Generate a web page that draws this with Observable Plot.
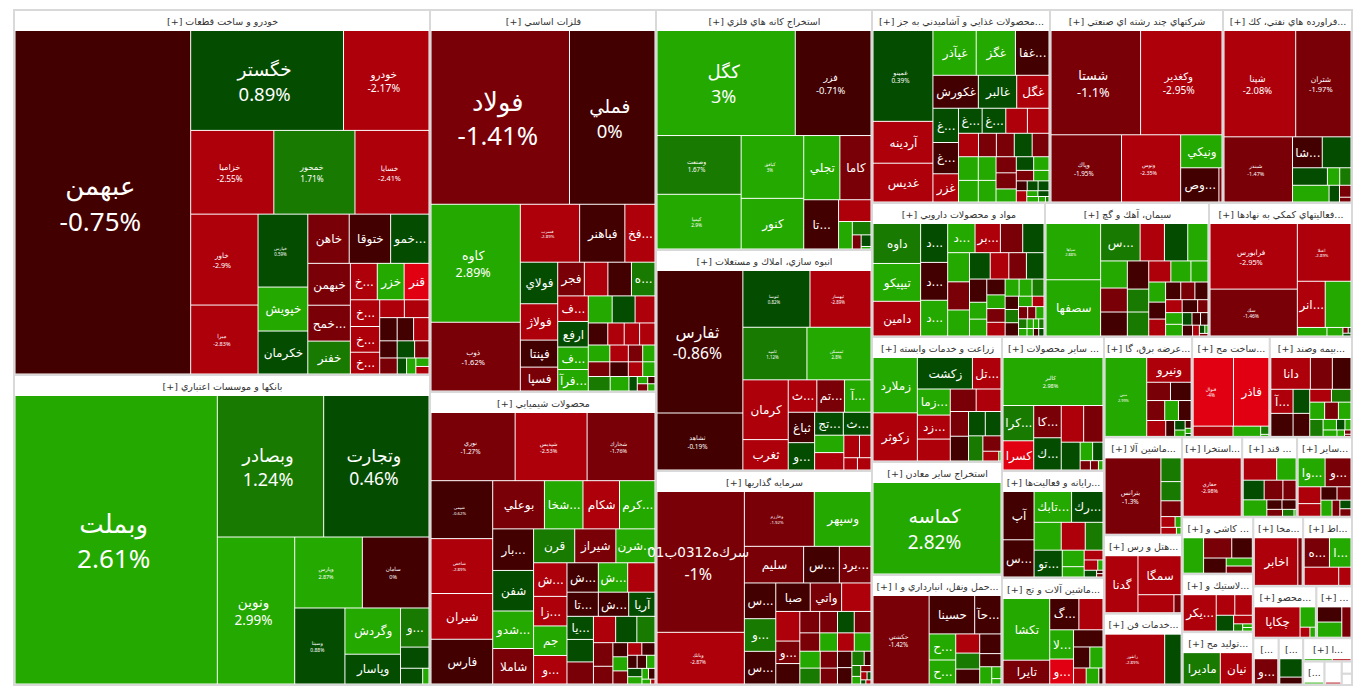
<!DOCTYPE html>
<html><head><meta charset="utf-8">
<script src="https://cdn.jsdelivr.net/npm/d3@7"></script>
<script src="https://cdn.jsdelivr.net/npm/@observablehq/plot@0.6"></script>
<style>html,body{margin:0;padding:0;background:#fff;overflow:hidden}svg{display:block}</style>
</head><body><div id="chart"></div>
<script>
// sector headings, in layout order
const sectorTitles = [
"خودرو و ساخت قطعات","بانكها و موسسات اعتباري","فلزات اساسي","محصولات شيميايي",
"استخراج كانه هاي فلزي","انبوه سازي، املاك و مستغلات","سرمايه گذاريها",
"محصولات غذايي و آشاميدني به جز...","شركتهاي چند رشته اي صنعتي","فراورده هاي نفتي، كك...",
"مواد و محصولات دارويي","سيمان، آهك و گچ","فعاليتهاي كمكي به نهادها...",
"زراعت و خدمات وابسته","استخراج ساير معادن","حمل ونقل، انبارداري و ا...",
"ساير محصولات ...","رايانه و فعاليت‌ها...","ماشين آلات و تج...",
"عرضه برق، گا...","ساخت مح...","بيمه وصند...",
"ماشين آلا...","هتل و رس...","خدمات فن...",
"استخرا...","قند ...","ساير...",
"كاشي و ...","لاستيك و...","توليد مح...",
"مخا...","اط...","محصو...","...","","","ا...","","","",""];
// sector market weights
const sectorSizes = [151840,128960,86332,66218,51840,47736,46224,34354,33389,24897,23182,21976,19162,16250,14690,14300,13668,10914,10914,8850,7800,8250,7643,6130,5573,4798,4384,4384,4053,4126,3764,3445,3375,3270,1846,1190,1142,1142,500,404,124,114];
const sarkName = "سرك\u200cه0312ب01";

// [ticker, weight inside its sector, % change]
const autos = [["عبهمن",58260,-0.75],["خگستر",14744,0.89],["خودرو",8245,-2.17],["خزاميا",6724,-2.55],["خمحور",6560,1.71],["خسايا",5986,-2.41],["خاور",5915,-2.9],["ميرا",4485,-2.83],["خپارس",3504,0.59],["خپويش",2112,2.5],["خكرمان",2064,.5],["خاهن",1968,-1.5],["ختوقا",1968,-.5],["خمو...",1824,.5],["خبهمن",1722,-1.5],["خمح...",1476,-1.5],["خفنر",1353,1.5],["خ...",945,-2.5],["خزر",945,2.5],["قنر",875,-3.5],["خ...",756,-2.5],["خ...",728,-2.5],["خ...",616,-2.5],["",425,-2.5],["",425,-2.5],["",391,-.5],["",368,-.5],["",345,-2.5],["",289,-.5],["",289,.5],["",238,-1.5],["",272,-1.5],["",144,.5],["",144,2.5],["",108,2.5],["",96,-2.5]];
const banks = [["وبملت",56200,2.61],["وبصادر",14490,1.24],["وتجارت",14352,0.46],["ونوين",10950,2.99],["وپارس",4623,2.87],["سامان",4554,0],["وسينا",3675,0.88],["وگردش",2475,2.5],["وپاسار",1595,.5],["و...",1073,1.5],["",580,.5],["",336,.5],["",96,2.5]];
const metals = [["فولاد",22317,-1.41],["فملي",13780,0],["كاوه",9775,2.89],["ذوب",5695,-1.62],["فسرب",3186,-2.89],["فباهنر",2430,-.5],["فخ...",1620,-2.5],["فولاي",1440,.5],["فولاژ",1260,-2.5],["فپنتا",936,-.5],["فسپا",828,-1.5],["فجر",832,-1.5],["",736,-2.5],["",736,-.5],["ه...",736,1.5],["ف...",725,-2.5],["ارفع",725,.5],["ف...",638,2.5],["فرآ...",609,2.5],["",600,2.5],["",575,.5],["",500,-2.5],["",399,-.5],["",336,-2.5],["",315,-2.5],["",315,-2.5],["",336,2.5],["",288,-2.5],["",224,-1.5],["",192,2.5],["",294,-1.5],["",252,-.5],["",196,-2.5],["",168,2.5],["",294,1.5],["",252,2.5],["",112,.5],["",70,2.5],["",49,-.5],["",70,-1.5],["",49,2.5]];
const chemicals = [["نوري",5395,-1.27],["شپديس",4615,-2.53],["شخارك",4355,-1.76],["شيمي",3363,-0.62],["شاخص",3186,-2.89],["شيران",2655,-2.5],["فارس",2596,-.5],["بوعلي",2346,-1.5],["شخا...",1748,2.5],["شكام",1656,-2.5],["كرم...",1610,2.5],["بار...",1599,-.5],["شفن",1560,.5],["شدو...",1443,2.5],["شاملا",1365,-1.5],["قرن",1312,1.5],["شيراز",1312,-1.5],["شرن...",1248,2.5],["ش...",1056,-2.5],["زا...",928,-2.5],["جم",928,2.5],["و...",896,-2.5],["ش...",868,-.5],["ش...",812,2.5],["",756,-2.5],["تا...",713,-.5],["ش...",690,-.5],["آريا",598,.5],["يا...",575,.5],["",560,.5],["",550,-1.5],["",550,-2.5],["",525,.5],["",450,1.5],["",432,-1.5],["",324,-1.5],["",196,-.5],["",196,2.5],["",182,-1.5],["",168,-2.5],["",156,-.5],["",117,-.5],["",117,-.5],["",104,2.5],["",112,.5],["",98,2.5],["",66,2.5],["",66,-.5],["",40,2.5],["",20,-2.5]];
const mining = [["كگل",13974,3],["فزر",7650,-0.71],["وصنعت",4756,1.67],["كيميا",4428,2.9],["كبافق",3782,3],["كنور",3050,2.5],["تجلي",2232,2.5],["كاما",1922,-1.5],["تا...",1650,-.5],["",680,-2.5],["",364,2.5],["",240,1.5],["",120,-1.5],["",110,.5],["",24,2.5]];
const buildings = [["ثفارس",11443,-0.86],["ثشاهد",4577,-0.19],["ثنوسا",3564,0.82],["ثبهساز",3240,-2.89],["ثاميد",3150,1.12],["ثمسكن",3150,2.8],["كرمان",2537,-2.5],["ثغرب",1290,-2.5],["ث...",868,-2.5],["تم...",837,-1.5],["آ...",806,2.5],["ثباغ",750,-.5],["و...",675,.5],["تج...",616,.5],["ث...",594,.5],["",476,2.5],["",476,-2.5],["",330,-2.5],["",242,-2.5],["",156,-2.5],["",156,-2.5]];
const investments = [[sarkName,11517,-1],["وبانك",4226,-2.87],["وخارزم",3588,-1.92],["وسپهر",2912,2.5],["سليم",2030,-1.5],["س...",1225,-.5],["يرد...",1085,-1.5],["س...",1050,-.5],["و...",960,1.5],["س...",960,-.5],["صبا",918,-.5],["واتي",837,-1.5],["",783,-2.5],["",667,-2.5],["و...",506,-1.5],["",460,-.5],["",399,-1.5],["",357,-1.5],["",336,.5],["",336,-1.5],["",342,-1.5],["",306,2.5],["",288,-2.5],["",288,2.5],["",323,2.5],["",304,1.5],["",272,-1.5],["",256,-1.5],["",221,-.5],["",221,-.5],["",165,1.5],["",91,-.5],["",90,1.5],["",63,2.5],["",60,-1.5],["",48,-2.5],["",30,.5],["",20,.5],["",20,-2.5]];
const foods = [["غمينو",5073,0.39],["آردينه",2337,-2.5],["غديس",2166,-2.5],["غپآذر",1806,2.5],["غگز",1638,2.5],["غفا...",1400,-.5],["غكورش",1395,-.5],["غالبر",1178,.5],["غگل",992,-2.5],["غ...",816,.5],["غ...",744,-.5],["غزر",672,-2.5],["غ...",552,.5],["غ...",552,.5],["",504,-2.5],["",504,-2.5],["",437,-2.5],["",391,-1.5],["",391,-1.5],["",391,.5],["",368,-1.5],["",437,2.5],["",399,2.5],["",391,2.5],["",357,2.5],["",304,-1.5],["",304,-1.5],["",247,2.5],["",221,.5],["",195,2.5],["",170,-1.5],["",150,2.5],["",100,-.5],["",100,.5],["",100,.5],["",110,-2.5],["",60,2.5],["",60,.5],["",60,2.5],["",36,2.5],["",18,1.5]];
const holdings = [["شستا",8976,-1.1],["وكغدير",8160,-2.95],["وپاك",4556,-1.95],["وتوس",3819,-2.35],["ونيكي",1312,2.5],["وص...",1258,-.5],["",102,-1.5]];
const refinery = [["شپنا",7210,-2.08],["شتران",5562,-1.97],["شبندر",4224,-1.47],["شا...",870,-.5],["",841,.5],["",578,.5],["",204,2.5],["",187,1.5],["",578,2.5],["",165,.5],["",130,-1.5],["",52,-1.5]];
const pharma = [["داوه",1672,1.5],["تيپيكو",1584,2.5],["دامين",1452,-2.5],["د...",925,.5],["د...",900,-.5],["د...",850,2.5],["د...",702,2.5],["بر...",650,-2.5],["",572,-1.5],["",546,.5],["",560,2.5],["",540,-1.5],["",500,2.5],["",480,.5],["",432,-2.5],["",408,-1.5],["",408,.5],["",352,-.5],["",256,2.5],["",256,2.5],["",255,-.5],["",221,2.5],["",221,-1.5],["",221,-2.5],["",210,2.5],["",195,2.5],["",180,1.5],["",156,-.5],["",156,1.5],["",156,-.5],["",126,2.5],["",108,-2.5],["",99,-1.5],["",88,-1.5],["",88,2.5],["",72,1.5],["",54,2.5],["",45,2.5],["",45,1.5],["",56,2.5],["",42,2.5],["",35,-.5],["",35,.5]];
const cement = [["سپاها",2754,2.88],["سصفها",2754,2.5],["س...",1326,1.5],["",816,-2.5],["",782,.5],["",680,2.5],["",650,2.5],["",575,-1.5],["",575,-.5],["",540,-.5],["",440,1.5],["",460,1.5],["",418,-2.5],["",380,2.5],["",323,2.5],["",304,2.5],["",256,-.5],["",256,-2.5],["",240,-.5],["",224,-1.5],["",208,-.5],["",192,-2.5],["",180,-.5],["",120,-1.5],["",176,2.5],["",176,2.5],["",108,.5],["",96,-.5],["",84,-.5],["",99,-.5],["",66,-2.5],["",40,.5],["",24,2.5],["",20,-1.5]];
const support = [["فرابورس",5292,-2.95],["سك",3780,-1.46],["اعتلا",2862,-2.89],["انر...",1188,-2.5],["",1100,2.5],["",234,2.5],["",126,2.5],["",28,-1.5],["",15,.5],["",21,.5]];
const farming = [["زملارد",2214,2.5],["زكوثر",1927,-2.5],["زكشت",1566,.5],["تل...",812,-2.5],["زما...",775,2.5],["زد...",713,-2.5],["",651,-2.5],["",525,-1.5],["",504,-2.5],["",408,-1.5],["",408,-.5],["",368,.5],["",345,.5],["",325,1.5],["",252,-1.5],["",140,-2.5],["",20,2.5]];
const otherMines = [["كماسه",100,2.82]];
const transport = [["حكشتي",4472,-1.42],["حسينا",1575,-.5],["حآ...",910,-.5],["ح...",625,2.5],["ح...",575,2.5],["",414,-2.5],["",345,1.5],["",322,-.5],["",378,-.5],["",252,-.5],["",187,2.5],["",99,2.5],["",45,2.5]];
const otherProducts = [["كالبر",4500,2.98],["كرا...",1015,1.5],["كسرا",841,-3.5],["كا...",832,-1.5],["ك...",832,.5],["",770,-2.5],["",665,-1.5],["",493,.5],["",216,2.5],["",180,.5],["",90,-1.5],["",70,-1.5],["",40,2.5]];
const computing = [["آپ",1392,-.5],["س...",1073,-.5],["تابك...",1073,2.5],["رك...",899,.5],["",702,2.5],["",621,-2.5],["",459,1.5],["تو...",702,.5],["",336,2.5],["",210,2.5],["",171,-2.5],["",130,-2.5],["",50,2.5],["",78,.5],["",20,-.5],["",20,-1.5]];
const machinery = [["تكشا",2565,2.5],["تايرا",990,-1.5],["گ...",812,-.5],["",672,-2.5],["لا...",621,2.5],["و...",529,-3.5],["",450,-.5],["",304,-.5],["",247,2.5],["",180,-2.5],["",180,2.5],["",60,-.5]];
const power = [["مبين",2964,2.99],["ونيرو",990,-2.5],["",391,-1.5],["",340,-.5],["",323,-1.5],["",247,2.5],["",228,-.5],["",272,-2.5],["",128,-.5],["",90,.5],["",60,2.5],["",42,-.5],["",28,2.5],["",16,.5]];
const metalProducts = [["فنوال",2640,-4],["فاذر",2310,-3.5],["",390,-2.5],["",270,2.5],["",64,1.5],["",16,2.5]];
const insurance = [["دانا",1080,-2.5],["",600,-1.5],["",510,-.5],["آ...",460,-2.5],["",440,-.5],["",345,.5],["",330,-.5],["",240,-2.5],["",216,1.5],["",221,2.5],["",204,-1.5],["",187,2.5],["",195,1.5],["",121,2.5],["",77,.5],["",55,2.5],["",77,2.5],["",42,2.5],["",24,-1.5],["",12,-1.5]];
const machines2 = [["بترانس",3922,-1.3],["",441,1.5],["",357,1.5],["",294,-1.5],["",140,-2.5],["",60,2.5],["",98,-2.5],["",30,2.5]];
const hotels = [["گدنا",1728,-2.5],["سمگا",1548,-2.5],["",595,-2.5],["",119,-1.5]];
const tech = [["رانفور",2842,-2.89],["",784,.5]];
const drilling = [["حفاري",100,-2.98]];
const sugar = [["",620,-2.5],["",360,2.5],["",342,.5],["",306,-1.5],["",216,-1.5],["",323,2.5],["",120,-.5],["",112,-.5],["",90,-1.5],["",66,1.5],["",12,2.5]];
const otherFin = [["وا...",650,2.5],["و...",624,-1.5],["",320,-2.5],["",240,-2.5],["",180,-.5],["",156,-1.5],["",150,2.5],["",105,-1.5],["",80,.5],["",70,-1.5]];
const ceramics = [["",660,2.5],["",520,-1.5],["",380,-.5],["",312,-.5],["",190,2.5],["",171,-1.5]];
const rubber = [["يكر...",1023,-2.5],["",324,-2.5],["",306,-2.5],["",234,.5],["",136,-2.5],["",56,1.5],["",30,2.5],["",30,2.5]];
const wood = [["ماديرا",1080,1.5],["نيان",930,-2.5]];
const telecom = [["اخابر",1800,-2.5],["",180,-1.5]];
const comms = [["ه...",621,-1.5],["ا...",530,2.5],["",525,-2.5],["",187,-2.5]];
const products2 = [["چكاپا",1134,-2.5],["",255,2.5],["",81,-2.5],["",45,2.5]];
const small1 = [["",286,-.5],["",286,2.5],["",216,-1.5]];
const small2 = [["و...",374,-1.5]];
const small3 = [["",336,.5],["",126,-.5]];
const small4 = [["",60,2.5],["",40,-2.5]];
const small5 = [["",60,2.5]];
const small6 = [["",40,-2.5]];
const small7 = [["",10,2.5]];
const small8 = [["",10,2.5]];
const sectorTiles = [autos,banks,metals,chemicals,mining,buildings,investments,foods,holdings,refinery,pharma,cement,support,farming,otherMines,transport,otherProducts,computing,machinery,power,metalProducts,insurance,machines2,hotels,tech,drilling,sugar,otherFin,ceramics,rubber,wood,telecom,comms,products2,small1,small2,small3,small4,small5,small6,small7,small8];
// headings that are cut to a bare bracket in the narrowest boxes
const bareTitle = {35:"[...",36:"[...",38:"[..."};

// how the treemap is tiled: n > 0 stacks the next n items in a column at the left, n < 0 lays them in a row along the top
const sectorPlan = [2,2,3,-3,-3,3,3,-3,3,-3,3,-2,-2,1,1,-1,1,1,2];
const tilePlans = [
 [1,-2,-3,2,3,-3,3,-3,3,-2,-3,-3,1,1,1,2],
 [1,-2,1,-2,1,2,-1,-1,-2],
 [-2,2,-3,4,-4,4,-3,-4,-4,-4,1,1,1,-2,-2],
 [-3,4,-4,4,-3,4,-3,-3,3,-3,2,3,-2,-3,2,-2,-2],
 [-2,2,2,-2,1,-1,1,-1,1,-1,-1],
 [2,-2,-2,2,-3,2,-2,2,-2,-2],
 [2,-2,-3,3,-3,3,-4,-4,2,2,2,-2,2,-1,-2,-2],
 [3,-3,-3,3,-4,-5,2,2,3,-2,-2,-3,1,-2,-3],
 [-2,1,1,-1,1,1],
 [-2,1,-2,-3,1,1,2],
 [3,3,-4,3,-4,3,4,-3,3,-2,-3,-4,-4],
 [2,-4,3,3,-3,3,-3,-3,2,-3,1,1,-2,-1],
 [2,-1,-2,1,1,-2,-1],
 [2,-2,3,-2,2,-2,1,-1,-2],
 [1],
 [1,-2,2,3,-1,-1,1,2],
 [-1,2,2,-2,1,-2,-3],
 [2,-2,-3,1,2,-1,-2,1,2],
 [2,-2,2,-1,-2,-3],
 [1,-1,-2,-3,1,1,2,3],
 [-2,1,1,2],
 [-3,2,2,-2,-3,1,-3,1,1,2],
 [1,-1,-1,-1,-2,-2],
 [1,-1,-2],
 [1,1],
 [1],
 [-2,-3,1,-2,-3],
 [-2,2,-2,1,1,2],
 [1,-2,1,-1,-1],
 [1,-2,1,-1,1,2],
 [1,1],[1,1],[-2,-2],[1,-1,1,1],[2,1],[1],[-1,-1],[1,1],[1],[1],[1],[1]];

// display type: tickers that also print their % change, with their type size
const pctLabelSize = {"عبهمن":26,"خگستر":18.5,"خودرو":10.4,"خزاميا":8.3,"خمحور":8.3,"خسايا":7.3,"خاور":7.2,"ميرا":5.5,"خپارس":4.4,"وبملت":26,"وبصادر":18,"وتجارت":17.5,"ونوين":13.5,"وپارس":5.4,"سامان":5.5,"وسينا":5,"فولاد":25.7,"فملي":18.5,"كاوه":12.5,"ذوب":7.5,"فسرب":4.3,"نوري":6.4,"شپديس":5.5,"شخارك":5.5,"شيمي":4.3,"شاخص":4.3,"كگل":18,"فزر":9.4,"وصنعت":6.2,"كيميا":4.8,"كبافق":4.5,"ثفارس":15.7,"ثشاهد":6.4,"ثنوسا":4.4,"ثبهساز":4.4,"ثاميد":4.4,"ثمسكن":4.4,[sarkName]:16,"وبانك":5,"وخارزم":4.3,"غمينو":6.4,"شستا":12.8,"وكغدير":10.2,"وپاك":6.3,"وتوس":5.3,"شپنا":9.4,"شتران":7.5,"شبندر":5.4,"سپاها":3.9,"فرابورس":7.4,"سك":5,"اعتلا":4.3,"حكشتي":6.2,"كالبر":5.5,"كماسه":19,"مبين":3.9,"فنوال":4.7,"بترانس":6.5,"رانفور":4.3,"حفاري":5.3};
const nameSizeOverride = {[sarkName]:13.6};
const nameOnlySize = 12;

const mapW = 1338, mapH = 675, offX = 14, offY = 10;
const rootData = {children: sectorTitles.map((title,i) => {
  const total = d3.sum(sectorTiles[i], t => t[1]);
  return {title, index:i, children: sectorTiles[i].map(t => ({name:t[0], size:t[1]/total*sectorSizes[i], pct:t[2]}))};
})};
// tile by the plan: each step takes its share of what is left of the box
function plannedTile(parent, x0, y0, x1, y1) {
  const plan = parent.depth === 0 ? sectorPlan : tilePlans[parent.data.index];
  const nodes = parent.children;
  let i = 0, left = parent.value;
  for (const step of plan) {
    const group = nodes.slice(i, i + Math.abs(step));
    const value = d3.sum(group, n => n.value);
    const share = left > 0 ? value / left : 0;
    const box = {children: group, value};
    if (step > 0) { const x = x0 + (x1 - x0) * share; d3.treemapSlice(box, x0, y0, x, y1); x0 = x; }
    else { const y = y0 + (y1 - y0) * share; d3.treemapDice(box, x0, y0, x1, y); y0 = y; }
    i += group.length; left -= value;
  }
}
const layoutRoot = d3.treemap().tile(plannedTile).size([mapW,mapH])
  .paddingTop(d => d.depth===1 ? 21 : 0)
  .paddingLeft(d => d.depth===1 ? 1.5 : 0)
  .paddingRight(d => d.depth===1 ? 1.5 : 0)
  .paddingBottom(d => d.depth===1 ? 1.5 : 0)
  .paddingInner(d => d.depth===1 ? 1 : 0)
  (d3.hierarchy(rootData).sum(d => d.size||0));

const sectorRows = layoutRoot.children.map(n => ({x0:n.x0+offX,x1:n.x1+offX,y0:n.y0+offY,y1:n.y1+offY,
  title: bareTitle[n.data.index] || (n.data.title==="" ? "" : "[+] "+n.data.title)}));
const tileRows = layoutRoot.leaves().map(n => {
  const d = n.data, size = pctLabelSize[d.name];
  const cx = (n.x0+n.x1)/2+offX, cy = (n.y0+n.y1)/2+offY, font = size || nameOnlySize;
  return {x0:n.x0+offX,x1:n.x1+offX,y0:n.y0+offY,y1:n.y1+offY,name:d.name,pct:d.pct,font,cx,cy,hasPct:!!size,
    nameFont:nameSizeOverride[d.name]||font};
});

const arabic = '"DejaVu Sans",sans-serif', latin = '"Noto Sans","DejaVu Sans",sans-serif';
const chart = Plot.plot({
  width:1366, height:695, margin:0,
  x:{type:"identity",axis:null}, y:{type:"identity",axis:null},
  color:{type:"threshold", domain:[-3,-2,-0.999,0.001,1,2],
    range:["#e00012","#ae000b","#7a0007","#430000","#044d00","#187a00","#24a900"]},
  style:{background:"#fff"},
  marks:[
    Plot.rect(sectorRows,{x1:"x0",x2:"x1",y1:"y0",y2:"y1",fill:"#fff",stroke:"#d9d9d9",strokeWidth:2}),
    Plot.rect(tileRows,{x1:"x0",x2:"x1",y1:"y0",y2:"y1",fill:"pct"}),
    Plot.text(sectorRows,{x:d=>(d.x0+d.x1)/2,y:d=>d.y0+11,text:"title",fontSize:9.5,fill:"#333",fontFamily:arabic}),
    Plot.text(tileRows.filter(d=>d.name&&!d.hasPct),{x:"cx",y:"cy",text:"name",fontSize:d=>d.nameFont,fill:"#fff",fontFamily:arabic}),
    Plot.text(tileRows.filter(d=>d.hasPct),{x:d=>d.cx-3,y:d=>d.cy-d.font*0.6,text:"name",fontSize:d=>d.nameFont,fill:"#fff",fontFamily:arabic}),
    Plot.text(tileRows.filter(d=>d.hasPct),{x:d=>d.cx-3,y:d=>d.cy+d.font*0.75,text:d=>d.pct+"%",fontSize:d=>d.font,fill:"#fff",fontFamily:latin})
  ]
});
document.getElementById("chart").appendChild(chart);
</script></body></html>
